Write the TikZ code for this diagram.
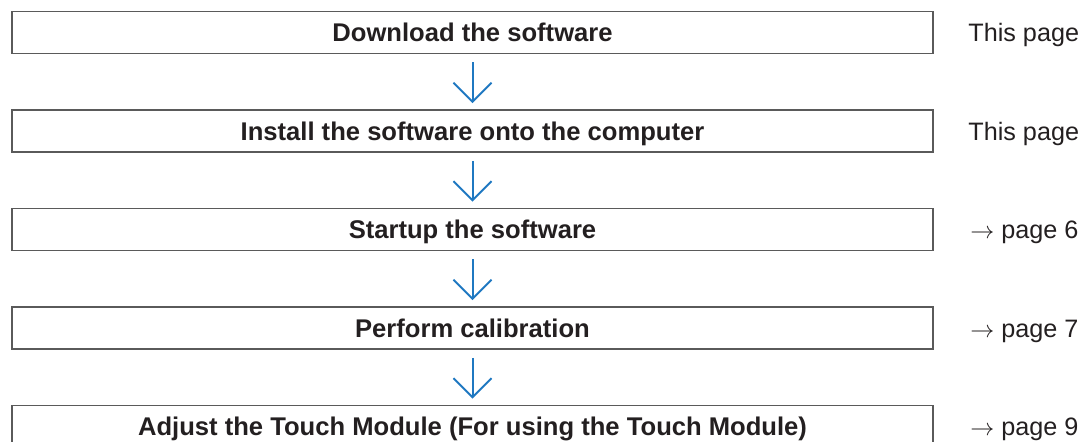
\documentclass[tikz,border=0pt]{standalone}
\usepackage{fontspec}
\setmainfont{Liberation Sans}
\usepackage{tikz}
\usetikzlibrary{arrows.meta}
\definecolor{frame}{HTML}{5A5A5A}
\definecolor{ink}{HTML}{231F20}
\definecolor{flowblue}{HTML}{1F78C1}
\tikzset{
  stepBox/.style={draw=frame, line width=0.9pt, minimum width=460.5pt, minimum height=21pt,
    inner sep=0pt, text height=9pt, text depth=0pt, text=ink, font=\fontsize{12.8}{15}\selectfont\bfseries},
  pageRef/.style={anchor=west, inner sep=0pt, text height=9pt, text depth=0pt, text=ink,
    font=\fontsize{12.6}{15}\selectfont},
  flowArrow/.style={draw=flowblue, line width=1pt,
    -{Straight Barb[length=9.5pt,width=19pt,line width=1pt]}, shorten <=4pt, shorten >=3pt}
}

\begin{document}
\begin{tikzpicture}[x=0.5pt,y=-0.5pt]
  \useasboundingbox (0,0) rectangle (1086,441);
  \clip (0,0) rectangle (1086,441);

  \node[stepBox] (download) at (472.5,32.5) {Download the software};
  \node[stepBox] (install) at (472.5,131) {Install the software onto the computer};
  \node[stepBox] (startup) at (472.5,229.5) {Startup the software};
  \node[stepBox] (calibrate) at (472.5,328) {Perform calibration};
  \node[stepBox] (adjust) at (472.5,426.5) {Adjust the Touch Module (For using the Touch Module)};

  \node[pageRef] (refDownload) at (968,32.5) {This page};
  \node[pageRef] (refInstall) at (968,131) {This page};
  \node[pageRef] (refStartup) at (970,229.5) {$\rightarrow$ page 6};
  \node[pageRef] (refCalibrate) at (970,328) {$\rightarrow$ page 7};
  \node[pageRef] (refAdjust) at (970,426.5) {$\rightarrow$ page 9};

  \draw[flowArrow] (download) -- (install);
  \draw[flowArrow] (install) -- (startup);
  \draw[flowArrow] (startup) -- (calibrate);
  \draw[flowArrow] (calibrate) -- (adjust);
\end{tikzpicture}
\end{document}
